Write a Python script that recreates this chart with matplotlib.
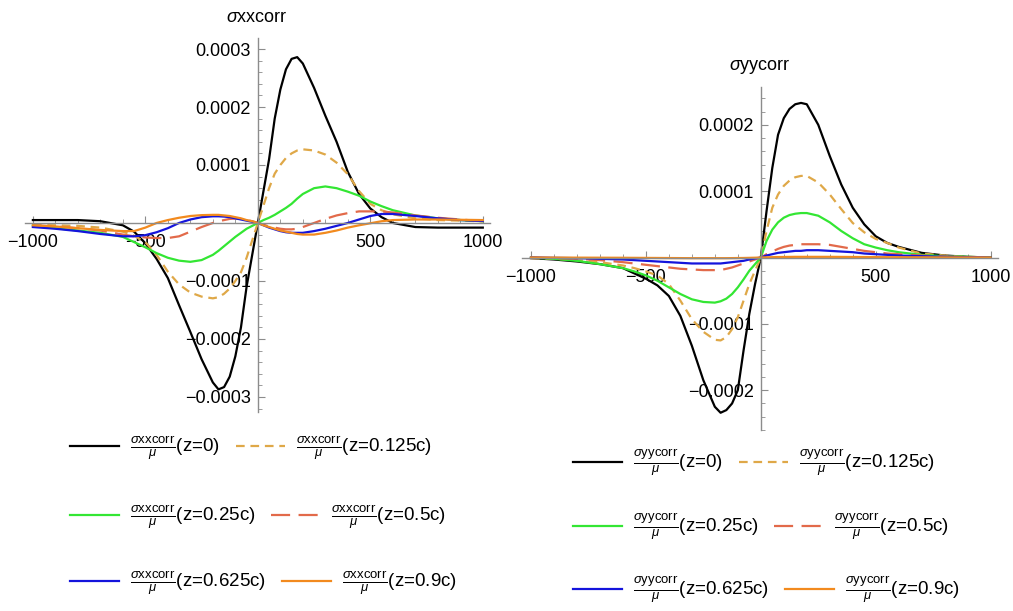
import numpy as np
import matplotlib
matplotlib.use("Agg")
import matplotlib.pyplot as plt
from matplotlib.lines import Line2D
from matplotlib.ticker import MultipleLocator

plt.rcParams['font.family'] = ['Liberation Sans', 'DejaVu Sans']
plt.rcParams['mathtext.fontset'] = 'custom'
plt.rcParams['mathtext.rm'] = 'Liberation Sans'
plt.rcParams['mathtext.it'] = 'Liberation Sans:italic'
plt.rcParams['mathtext.bf'] = 'Liberation Sans:bold'

# x positions of the read-off points
x = [-1000, -900, -800, -700, -600, -550, -500, -450, -400, -350, -300, -250,
     -200, -175, -150, -125, -100, -75, -50, -25, 0, 25, 50, 75, 100, 125,
     150, 175, 200, 250, 300, 350, 400, 450, 500, 550, 600, 700, 800, 900, 1000]

# sigma_xx corr / mu, values in units of 1e-4
xx_z0 = [0.05, 0.05, 0.05, 0.03, -0.04, -0.15, -0.35, -0.62, -0.95, -1.42, -1.88, -2.35,
         -2.75, -2.87, -2.83, -2.65, -2.3, -1.8, -1.1, -0.55, 0.0, 0.55, 1.1, 1.8, 2.3, 2.65,
         2.83, 2.86, 2.75, 2.33, 1.85, 1.40, 0.88, 0.50, 0.25, 0.10, 0.0, -0.07, -0.08, -0.08, -0.08]
xx_z0125 = [-0.03, -0.04, -0.05, -0.08, -0.15, -0.22, -0.33, -0.55, -0.84, -1.06, -1.2, -1.27,
            -1.3, -1.28, -1.22, -1.13, -1.0, -0.85, -0.6, -0.3, 0.0, 0.3, 0.6, 0.85, 1.0, 1.12,
            1.2, 1.25, 1.27, 1.25, 1.18, 1.04, 0.84, 0.55, 0.33, 0.22, 0.15, 0.08, 0.05, 0.04, 0.03]
xx_z025 = [-0.04, -0.09, -0.13, -0.17, -0.24, -0.33, -0.42, -0.52, -0.6, -0.65, -0.67, -0.64,
           -0.55, -0.48, -0.4, -0.32, -0.24, -0.17, -0.1, -0.05, 0.0, 0.05, 0.09, 0.14, 0.2, 0.26,
           0.33, 0.42, 0.5, 0.6, 0.63, 0.6, 0.54, 0.47, 0.37, 0.29, 0.22, 0.13, 0.08, 0.05, 0.03]
xx_z05 = [-0.04, -0.06, -0.09, -0.13, -0.2, -0.23, -0.25, -0.26, -0.26, -0.23, -0.15, -0.07,
          0.0, 0.03, 0.05, 0.07, 0.075, 0.07, 0.05, 0.03, 0.0, -0.03, -0.06, -0.08, -0.1, -0.11,
          -0.11, -0.1, -0.07, 0.0, 0.07, 0.13, 0.17, 0.2, 0.2, 0.2, 0.18, 0.13, 0.09, 0.06, 0.03]
xx_z0625 = [-0.07, -0.1, -0.14, -0.19, -0.23, -0.23, -0.21, -0.16, -0.09, 0.0, 0.06, 0.1,
            0.115, 0.115, 0.11, 0.1, 0.08, 0.06, 0.04, 0.02, 0.0, -0.04, -0.08, -0.11, -0.14, -0.16,
            -0.17, -0.17, -0.17, -0.14, -0.1, -0.05, 0.0, 0.06, 0.12, 0.155, 0.155, 0.12, 0.08, 0.05, 0.035]
xx_z09 = [-0.04, -0.06, -0.09, -0.12, -0.14, -0.14, -0.08, 0.0, 0.05, 0.09, 0.12, 0.135,
          0.14, 0.14, 0.13, 0.12, 0.1, 0.08, 0.05, 0.03, 0.0, -0.04, -0.07, -0.1, -0.13, -0.15,
          -0.17, -0.19, -0.2, -0.2, -0.17, -0.13, -0.08, -0.04, -0.005, 0.03, 0.05, 0.06, 0.06, 0.055, 0.05]

# sigma_yy corr / mu, values in units of 1e-4
yy_z0 = [-0.01, -0.03, -0.06, -0.1, -0.16, -0.24, -0.32, -0.42, -0.58, -0.88, -1.33, -1.85,
         -2.25, -2.34, -2.3, -2.2, -2.0, -1.4, -0.85, -0.4, 0.0, 0.7, 1.35, 1.85, 2.1, 2.24,
         2.31, 2.33, 2.31, 2.0, 1.53, 1.1, 0.75, 0.5, 0.32, 0.22, 0.16, 0.07, 0.03, 0.01, 0.0]
yy_z0125 = [-0.01, -0.02, -0.04, -0.07, -0.12, -0.16, -0.21, -0.27, -0.4, -0.65, -0.93, -1.12,
            -1.24, -1.25, -1.2, -1.08, -0.9, -0.65, -0.4, -0.2, 0.0, 0.4, 0.75, 0.95, 1.08, 1.16,
            1.21, 1.23, 1.23, 1.13, 0.95, 0.73, 0.52, 0.38, 0.28, 0.22, 0.15, 0.06, 0.03, 0.01, 0.0]
yy_z025 = [0.0, -0.02, -0.05, -0.1, -0.16, -0.21, -0.27, -0.35, -0.45, -0.55, -0.63, -0.67,
           -0.68, -0.66, -0.62, -0.55, -0.45, -0.33, -0.2, -0.1, 0.0, 0.25, 0.42, 0.53, 0.6, 0.64,
           0.66, 0.67, 0.67, 0.63, 0.53, 0.4, 0.29, 0.2, 0.15, 0.11, 0.08, 0.04, 0.02, 0.01, 0.0]
yy_z05 = [0.0, -0.01, -0.02, -0.04, -0.07, -0.09, -0.11, -0.13, -0.15, -0.17, -0.18, -0.19,
          -0.19, -0.19, -0.17, -0.15, -0.12, -0.09, -0.06, -0.03, 0.0, 0.05, 0.09, 0.13, 0.16, 0.18,
          0.19, 0.2, 0.2, 0.2, 0.19, 0.16, 0.13, 0.1, 0.08, 0.06, 0.05, 0.03, 0.015, 0.005, 0.0]
yy_z0625 = [0.0, -0.005, -0.01, -0.02, -0.03, -0.04, -0.05, -0.06, -0.07, -0.08, -0.09, -0.09,
            -0.09, -0.09, -0.08, -0.07, -0.06, -0.05, -0.03, -0.015, 0.0, 0.03, 0.05, 0.07, 0.08, 0.09,
            0.1, 0.1, 0.11, 0.11, 0.1, 0.09, 0.08, 0.06, 0.05, 0.04, 0.03, 0.02, 0.01, 0.005, 0.0]
yy_z09 = [0.0, -0.001, -0.002, -0.003, -0.004, -0.005, -0.006, -0.007, -0.008, -0.009, -0.01, -0.01,
          -0.01, -0.01, -0.01, -0.009, -0.008, -0.007, -0.005, -0.003, 0.0, 0.003, 0.005, 0.007, 0.008, 0.009,
          0.01, 0.01, 0.01, 0.01, 0.01, 0.009, 0.008, 0.007, 0.006, 0.005, 0.004, 0.003, 0.002, 0.001, 0.0]

z_labels = ['z=0', 'z=0.125c', 'z=0.25c', 'z=0.5c', 'z=0.625c', 'z=0.9c']
colors = ['#000000', '#DFA848', '#33E633', '#E26A4A', '#1414DC', '#F28A1E']
dashes = [None, (3.9, 2.6), None, (8.6, 3.8), None, None]

xx_series = [xx_z0, xx_z0125, xx_z025, xx_z05, xx_z0625, xx_z09]
yy_series = [yy_z0, yy_z0125, yy_z025, yy_z05, yy_z0625, yy_z09]

W, H = 1013, 611
fig = plt.figure(figsize=(W / 100, H / 100), dpi=100)


def px_rect(x0, y0, x1, y1):
    return [x0 / W, 1 - y1 / H, (x1 - x0) / W, (y1 - y0) / H]


def style_axes(ax, xlim, ylim, yticks, ylabels):
    ax.set_xlim(*xlim)
    ax.set_ylim(*ylim)
    for s in ['top', 'right']:
        ax.spines[s].set_visible(False)
    ax.spines['left'].set_position(('data', 0))
    ax.spines['bottom'].set_position(('data', 0))
    for s in ['left', 'bottom']:
        ax.spines[s].set_color('#8c8c8c')
        ax.spines[s].set_linewidth(1.0)
    ax.set_xticks([-1000, -500, 500, 1000])
    ax.set_xticklabels(['\u22121000', '\u2212500', '500', '1000'])
    ax.set_yticks(yticks)
    ax.set_yticklabels(ylabels)
    ax.xaxis.set_minor_locator(MultipleLocator(100))
    ax.yaxis.set_minor_locator(MultipleLocator(0.00002))
    ax.tick_params(which='both', direction='in', color='#8c8c8c', labelsize=13)
    ax.tick_params(axis='x', which='major', length=5, pad=8)
    ax.tick_params(axis='x', which='minor', length=3)
    ax.tick_params(axis='y', which='major', length=5, pad=5)
    ax.tick_params(axis='y', which='minor', length=3)
    ax.patch.set_alpha(0)


def draw(ax, series):
    for ys, c, d in zip(series, colors, dashes):
        line, = ax.plot(x, np.array(ys) * 1e-4, color=c, lw=1.6)
        if d is not None:
            line.set_dashes(d)


def legend_rows(name, rows_y, x0):
    for r, y in enumerate(rows_y):
        handles, labels = [], []
        for k in (2 * r, 2 * r + 1):
            h = Line2D([], [], color=colors[k], lw=1.6)
            if dashes[k] is not None:
                h.set_dashes(dashes[k])
            handles.append(h)
            labels.append(r'$\frac{\sigma\mathrm{' + name + r'}}{\mu}$(' + z_labels[k] + ')')
        fig.legend(handles, labels, ncol=2, loc='center left',
                   bbox_to_anchor=(x0 / W, 1 - y / H), frameon=False,
                   borderpad=0, borderaxespad=0, handlelength=2.6,
                   handletextpad=0.6, columnspacing=0.85, fontsize=13.5)


# left panel
ax1 = fig.add_axes(px_rect(25, 38, 490, 412))
draw(ax1, xx_series)
style_axes(ax1, (-1035, 1032), (-3.26e-4, 3.19e-4),
           [-3e-4, -2e-4, -1e-4, 1e-4, 2e-4, 3e-4],
           ['\u22120.0003', '\u22120.0002', '\u22120.0001', '0.0001', '0.0002', '0.0003'])
fig.text(257 / W, 1 - 17 / H, r'$\sigma$xxcorr', ha='center', va='center', fontsize=13)

# right panel
ax2 = fig.add_axes(px_rect(522, 87, 998, 430))
draw(ax2, yy_series)
style_axes(ax2, (-1039, 1032), (-2.6e-4, 2.57e-4),
           [-2e-4, -1e-4, 1e-4, 2e-4],
           ['\u22120.0002', '\u22120.0001', '0.0001', '0.0002'])
fig.text(760 / W, 1 - 66 / H, r'$\sigma$yycorr', ha='center', va='center', fontsize=13)

legend_rows('xxcorr', [448, 517, 583], 70)
legend_rows('yycorr', [463, 527, 590], 573)

fig.savefig('out.png', dpi=100, facecolor='white')
